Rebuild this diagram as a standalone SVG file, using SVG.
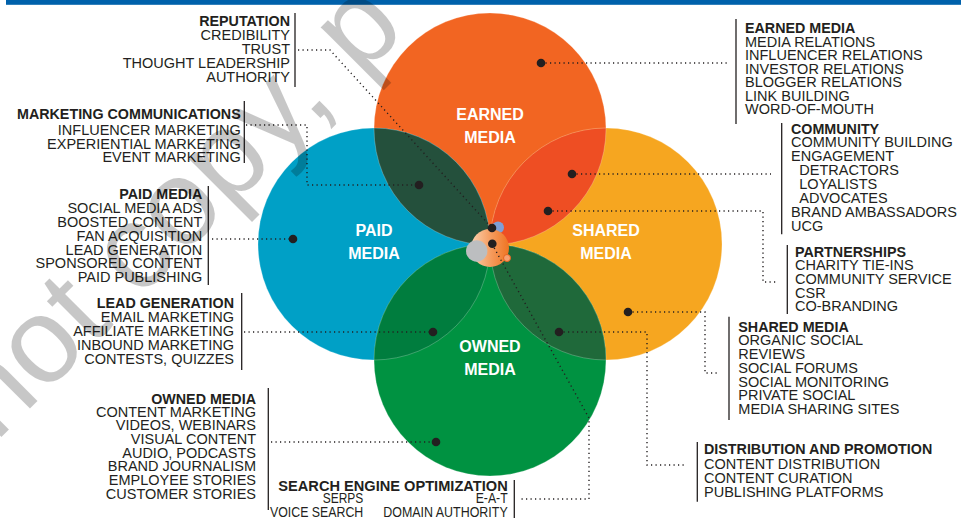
<svg xmlns="http://www.w3.org/2000/svg" width="961" height="520" viewBox="0 0 961 520">
  <style>
    .t { font-family: "Liberation Sans", Arial, sans-serif; font-size: 14.5px; fill: #231f20; }
    .h { font-weight: bold; font-size: 14.3px; }
    .r { text-anchor: end; }
    .lab { font-family: "Liberation Sans", Arial, sans-serif; font-size: 16px; font-weight: bold; fill: #ffffff; text-anchor: middle; }
    .bar { stroke: #231f20; stroke-width: 1.3; fill: none; }
    .dots { stroke: #231f20; stroke-width: 1.4; fill: none; stroke-dasharray: 1.2 3.3; }
    .dot { fill: #231f20; }
    .edge { fill: none; stroke: #ffffff; stroke-opacity: 0.3; stroke-width: 0.8; }
  </style>
  <defs>
    <clipPath id="clipEarned"><circle cx="490" cy="129" r="116"/></clipPath>
    <clipPath id="clipShared"><circle cx="606" cy="244" r="116"/></clipPath>
    <clipPath id="clipOwned"><circle cx="490" cy="360" r="116"/></clipPath>
    <clipPath id="clipPaid"><circle cx="374" cy="244" r="116"/></clipPath>
    <linearGradient id="hubFill" x1="0" y1="0" x2="1" y2="0">
      <stop offset="0" stop-color="#fcd2b0"/>
      <stop offset="0.55" stop-color="#f5995a"/>
      <stop offset="1" stop-color="#ef7422"/>
    </linearGradient>
  </defs>

  <rect x="6" y="0" width="955" height="4.8" fill="#0061ab"/>

  <!-- four media circles -->
  <g id="earned-media">
    <circle cx="490" cy="129" r="116" fill="#f26522"/>
  </g>
  <g id="paid-media">
    <circle cx="374" cy="244" r="116" fill="#00a0c6"/>
  </g>
  <g id="shared-media">
    <circle cx="606" cy="244" r="116" fill="#f6a620"/>
  </g>
  <g id="owned-media">
    <circle cx="490" cy="360" r="116" fill="#009241"/>
  </g>

  <!-- overlaps -->
  <g id="overlaps">
    <circle cx="374" cy="244" r="116" fill="#24503c" clip-path="url(#clipEarned)"/>
    <circle cx="606" cy="244" r="116" fill="#ee4e23" clip-path="url(#clipEarned)"/>
    <circle cx="374" cy="244" r="116" fill="#007d3e" clip-path="url(#clipOwned)"/>
    <circle cx="606" cy="244" r="116" fill="#1f693a" clip-path="url(#clipOwned)"/>
    <circle class="edge" cx="490" cy="129" r="116"/>
    <circle class="edge" cx="374" cy="244" r="116"/>
    <circle class="edge" cx="606" cy="244" r="116"/>
    <circle class="edge" cx="490" cy="360" r="116"/>
  </g>

  <g id="circle-labels">
    <text class="lab" x="490" y="120">EARNED</text>
    <text class="lab" x="490" y="143">MEDIA</text>
    <text class="lab" x="374" y="236">PAID</text>
    <text class="lab" x="374" y="259">MEDIA</text>
    <text class="lab" x="606" y="236">SHARED</text>
    <text class="lab" x="606" y="259">MEDIA</text>
    <text class="lab" x="490" y="352">OWNED</text>
    <text class="lab" x="490" y="375">MEDIA</text>
  </g>

  <!-- hub at the centre -->
  <g id="hub">
    <circle cx="498" cy="227.5" r="6" fill="#7f9fd6"/>
    <circle cx="490" cy="248" r="19" fill="url(#hubFill)"/>
    <circle cx="476.7" cy="251" r="10.7" fill="#bcbec0"/>
    <circle cx="507" cy="258" r="3.5" fill="#f7a070" stroke="#e8641e" stroke-width="1"/>
  </g>

  <!-- connectors -->
  <g id="connectors">
    <path class="dots" d="M298,50 H330 L492,228"/>
    <path class="dots" d="M541,63 H728"/>
    <path class="dots" d="M246,125 H307 V185 H419"/>
    <path class="dots" d="M212,239 H293"/>
    <path class="dots" d="M244,332 H433"/>
    <path class="dots" d="M271,442 H436"/>
    <path class="dots" d="M572,174 H771"/>
    <path class="dots" d="M548,211 H763 V282 H778"/>
    <path class="dots" d="M628,312 H705 V373 H718"/>
    <path class="dots" d="M559,332 H647 V465 H687"/>
    <path class="dots" d="M492,244 L589,418 V499 H520"/>
    <circle class="dot" cx="492" cy="228" r="4.3"/>
    <circle class="dot" cx="492.3" cy="243.7" r="4.3"/>
    <circle class="dot" cx="541" cy="63" r="4.3"/>
    <circle class="dot" cx="419" cy="185" r="4.3"/>
    <circle class="dot" cx="293" cy="239" r="4.3"/>
    <circle class="dot" cx="433" cy="332" r="4.3"/>
    <circle class="dot" cx="436" cy="442" r="4.3"/>
    <circle class="dot" cx="572" cy="174" r="4.3"/>
    <circle class="dot" cx="548" cy="211" r="4.3"/>
    <circle class="dot" cx="628" cy="312" r="4.3"/>
    <circle class="dot" cx="559" cy="332" r="4.3"/>
  </g>

  <!-- label blocks -->
  <g id="reputation">
    <line class="bar" x1="295" y1="13" x2="295" y2="87"/>
    <text class="t h r" x="290" y="26">REPUTATION</text>
    <text class="t r" x="290" y="40">CREDIBILITY</text>
    <text class="t r" x="290" y="54">TRUST</text>
    <text class="t r" x="290" y="68">THOUGHT LEADERSHIP</text>
    <text class="t r" x="290" y="82">AUTHORITY</text>
  </g>

  <g id="marketing-communications">
    <line class="bar" x1="244.3" y1="101" x2="244.3" y2="163"/>
    <text class="t h r" x="240.7" y="119">MARKETING COMMUNICATIONS</text>
    <text class="t r" x="240.7" y="135">INFLUENCER MARKETING</text>
    <text class="t r" x="240.7" y="148.5">EXPERIENTIAL MARKETING</text>
    <text class="t r" x="240.7" y="162.3">EVENT MARKETING</text>
  </g>

  <g id="paid-media-list">
    <line class="bar" x1="208.3" y1="186" x2="208.3" y2="285"/>
    <text class="t h r" x="202.3" y="199.3">PAID MEDIA</text>
    <text class="t r" x="202.3" y="213.3">SOCIAL MEDIA ADS</text>
    <text class="t r" x="202.3" y="227.3">BOOSTED CONTENT</text>
    <text class="t r" x="202.3" y="241">FAN ACQUISITION</text>
    <text class="t r" x="202.3" y="254.5">LEAD GENERATION</text>
    <text class="t r" x="202.3" y="268">SPONSORED CONTENT</text>
    <text class="t r" x="202.3" y="281.7">PAID PUBLISHING</text>
  </g>

  <g id="lead-generation">
    <line class="bar" x1="241.7" y1="293" x2="241.7" y2="370"/>
    <text class="t h r" x="234" y="308.3">LEAD GENERATION</text>
    <text class="t r" x="234" y="322.3">EMAIL MARKETING</text>
    <text class="t r" x="234" y="336.3">AFFILIATE MARKETING</text>
    <text class="t r" x="234" y="350">INBOUND MARKETING</text>
    <text class="t r" x="234" y="364">CONTESTS, QUIZZES</text>
  </g>

  <g id="owned-media-list">
    <line class="bar" x1="268.3" y1="388" x2="268.3" y2="510"/>
    <text class="t h r" x="256" y="404">OWNED MEDIA</text>
    <text class="t r" x="256" y="416.7">CONTENT MARKETING</text>
    <text class="t r" x="256" y="430.3">VIDEOS, WEBINARS</text>
    <text class="t r" x="256" y="444">VISUAL CONTENT</text>
    <text class="t r" x="256" y="457.7">AUDIO, PODCASTS</text>
    <text class="t r" x="256" y="471.3">BRAND JOURNALISM</text>
    <text class="t r" x="256" y="485">EMPLOYEE STORIES</text>
    <text class="t r" x="256" y="498.7">CUSTOMER STORIES</text>
  </g>

  <g id="search-engine-optimization">
    <line class="bar" x1="514.3" y1="480" x2="514.3" y2="518"/>
    <text class="t h" x="278.3" y="490.5" textLength="229.4" lengthAdjust="spacingAndGlyphs">SEARCH ENGINE OPTIMIZATION</text>
    <text class="t" x="322.7" y="502.7" textLength="40.6" lengthAdjust="spacingAndGlyphs">SERPS</text>
    <text class="t" x="475.7" y="502.7" textLength="32" lengthAdjust="spacingAndGlyphs">E-A-T</text>
    <text class="t" x="270" y="517.3" textLength="93.3" lengthAdjust="spacingAndGlyphs">VOICE SEARCH</text>
    <text class="t" x="383.3" y="517.3" textLength="124.4" lengthAdjust="spacingAndGlyphs">DOMAIN AUTHORITY</text>
  </g>

  <g id="earned-media-list">
    <line class="bar" x1="736" y1="19" x2="736" y2="124"/>
    <text class="t h" x="745" y="33.3">EARNED MEDIA</text>
    <text class="t" x="745" y="46.8">MEDIA RELATIONS</text>
    <text class="t" x="745" y="60.3">INFLUENCER RELATIONS</text>
    <text class="t" x="745" y="73.8">INVESTOR RELATIONS</text>
    <text class="t" x="745" y="87.3">BLOGGER RELATIONS</text>
    <text class="t" x="745" y="100.8">LINK BUILDING</text>
    <text class="t" x="745" y="114.3">WORD-OF-MOUTH</text>
  </g>

  <g id="community">
    <line class="bar" x1="781.7" y1="123" x2="781.7" y2="234.3"/>
    <text class="t h" x="791" y="133.5">COMMUNITY</text>
    <text class="t" x="791" y="147.3">COMMUNITY BUILDING</text>
    <text class="t" x="791" y="161">ENGAGEMENT</text>
    <text class="t" x="799.3" y="175">DETRACTORS</text>
    <text class="t" x="799.3" y="189">LOYALISTS</text>
    <text class="t" x="799.3" y="203">ADVOCATES</text>
    <text class="t" x="791" y="216.7">BRAND AMBASSADORS</text>
    <text class="t" x="791" y="230.5">UCG</text>
  </g>

  <g id="partnerships">
    <line class="bar" x1="787.3" y1="245" x2="787.3" y2="314"/>
    <text class="t h" x="795" y="256.7">PARTNERSHIPS</text>
    <text class="t" x="795" y="270.3">CHARITY TIE-INS</text>
    <text class="t" x="795" y="284">COMMUNITY SERVICE</text>
    <text class="t" x="795" y="297.5">CSR</text>
    <text class="t" x="795" y="311">CO-BRANDING</text>
  </g>

  <g id="shared-media-list">
    <line class="bar" x1="729" y1="316.7" x2="729" y2="420"/>
    <text class="t h" x="738.3" y="331.7">SHARED MEDIA</text>
    <text class="t" x="738.3" y="345.3">ORGANIC SOCIAL</text>
    <text class="t" x="738.3" y="359">REVIEWS</text>
    <text class="t" x="738.3" y="372.7">SOCIAL FORUMS</text>
    <text class="t" x="738.3" y="386.5">SOCIAL MONITORING</text>
    <text class="t" x="738.3" y="400.3">PRIVATE SOCIAL</text>
    <text class="t" x="738.3" y="414">MEDIA SHARING SITES</text>
  </g>

  <g id="distribution-and-promotion">
    <line class="bar" x1="697.3" y1="442" x2="697.3" y2="501.7"/>
    <text class="t h" x="704" y="454">DISTRIBUTION AND PROMOTION</text>
    <text class="t" x="704" y="468.7">CONTENT DISTRIBUTION</text>
    <text class="t" x="704" y="482.7">CONTENT CURATION</text>
    <text class="t" x="704" y="496.7">PUBLISHING PLATFORMS</text>
  </g>

  <!-- diagonal watermark lettering -->
  <text x="0" y="0" transform="translate(-4.5,443) rotate(-45)" font-family="Liberation Sans, Arial, sans-serif" font-size="121" fill="#000000" fill-opacity="0.22">not copy, p</text>
</svg>
